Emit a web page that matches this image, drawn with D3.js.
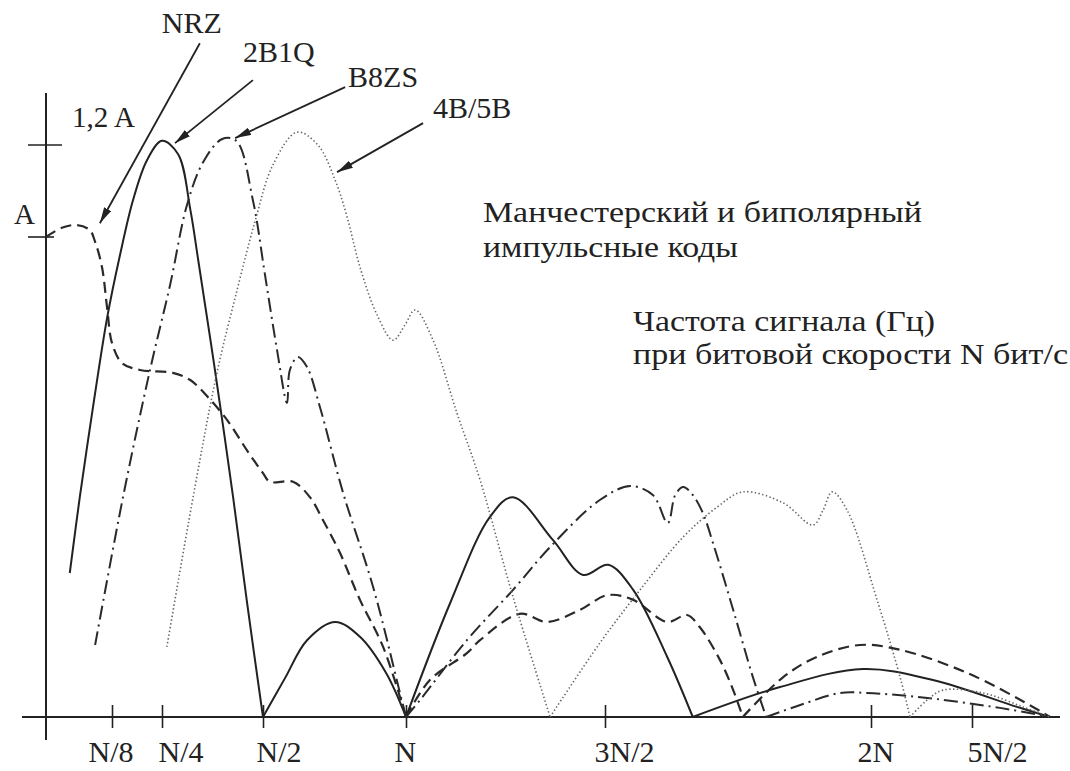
<!DOCTYPE HTML>
<html>
  <head>
    <meta charset="utf-8">
    <title>Спектры линейных кодов</title>
    <style>
      html, body { margin: 0; padding: 0; background: #fff; }
      svg { display: block; }
      text { font-family: "Liberation Serif", "Times New Roman", "DejaVu Serif", "Noto Serif", serif; fill: #222; }
    </style>
  </head>
  <body>
    <svg width="1070" height="771"></svg>
    <script src="https://d3js.org/d3.v7.min.js"></script>
    <script>
      // frequency in units of N (bit rate), amplitude in units of A
      var xTicks = [ 0.125, 0.25, 0.5, 1, 1.5, 2, 2.5 ];
      var xTickLabels = [ 'N/8', 'N/4', 'N/2', 'N', '3N/2', '2N', '5N/2' ];
      var yTicks = [ 1, 1.2 ];
      var yTickLabels = [ 'A', '1,2 A' ];

      var codeNames = [ 'NRZ', '2B1Q', 'B8ZS', '4B/5B' ];

      var nrz = [
        [ [0,1.0],[0.03,1.02],[0.059,1.026],[0.083,1.015],[0.093,0.99],[0.106,0.9375],[0.116,0.85],
          [0.125,0.779],[0.15,0.7375],[0.195,0.723],[0.277,0.717],[0.32,0.702],[0.363,0.667],
          [0.411,0.619],[0.46,0.556],[0.5,0.508],[0.524,0.49],[0.605,0.49],[0.664,0.458],[0.71,0.41],
          [0.769,0.342],[0.839,0.244],[0.92,0.146],[1.0,0] ],
        [ [1.0,0],[1.06,0.077],[1.153,0.133],[1.186,0.16],[1.286,0.215],[1.354,0.198],[1.437,0.223],
          [1.505,0.254],[1.553,0.244],[1.617,0.198],[1.654,0.2125],[1.678,0.1875],[1.716,0.119],
          [1.741,0.056],[1.759,0] ],
        [ [1.759,0],[1.835,0.083],[1.898,0.125],[1.979,0.15],[2.144,0.14],[2.475,0.092],[2.805,0.021],[2.89,0] ]
      ];

      var b2b1q = [
        [ [0.045,0.3],[0.064,0.458],[0.091,0.66],[0.116,0.833],[0.145,0.9625],[0.1775,1.08],[0.2125,1.167],
          [0.25,1.209],[0.29,1.18],[0.32,1.06],[0.34,0.95],[0.381,0.723],[0.426,0.458],[0.463,0.223],[0.5,0] ],
        [ [0.5,0],[0.577,0.081],[0.654,0.16],[0.752,0.198],[0.839,0.167],[0.93,0.092],[1.0,0] ],
        [ [1.0,0],[1.111,0.2375],[1.211,0.417],[1.269,0.458],[1.369,0.369],[1.445,0.296],[1.506,0.317],
          [1.553,0.265],[1.617,0.125],[1.665,0] ],
        [ [1.665,0],[1.829,0.0625],[1.985,0.1],[2.307,0.077],[2.725,0.021],[2.89,0] ]
      ];

      var b8zs = [
        [ [0.093,0.15],[0.1525,0.458],[0.22,0.723],[0.27,0.9],[0.312,1.07],[0.352,1.163],[0.399,1.213],
          [0.434,1.209],[0.475,1.08],[0.507,0.921],[0.549,0.765],[0.584,0.654],[0.594,0.723],[0.622,0.75],
          [0.654,0.729],[0.699,0.646],[0.78,0.467],[0.885,0.271],[0.979,0.05],[1.0,0] ],
        [ [1.0,0],[1.035,0.035],[1.153,0.16],[1.269,0.265],[1.362,0.354],[1.487,0.452],[1.547,0.481],
          [1.59,0.4625],[1.618,0.404],[1.632,0.4625],[1.647,0.479],[1.665,0.4625],[1.684,0.425],
          [1.703,0.3625],[1.741,0.223],[1.778,0.083],[1.803,0] ],
        [ [1.803,0],[1.867,0.025],[1.942,0.05],[1.992,0.05],[2.228,0.042],[2.64,0.019],[2.89,0] ]
      ];

      var b4b5b = [
        [ [0.262,0.146],[0.327,0.458],[0.386,0.717],[0.436,0.89],[0.48,1.033],[0.535,1.157],[0.619,1.228],
          [0.692,1.2],[0.752,1.124],[0.794,1.0435],[0.839,0.9375],[0.899,0.8375],[0.955,0.785],[0.9965,0.817],
          [1.023,0.848],[1.068,0.785],[1.128,0.633],[1.186,0.494],[1.269,0.25],[1.362,0] ],
        [ [1.362,0],[1.487,0.154],[1.566,0.265],[1.647,0.375],[1.711,0.4375],[1.759,0.469],[1.835,0.446],
          [1.891,0.4],[1.91,0.431],[1.927,0.469],[1.955,0.431],[2.03,0.244],[2.144,0.083],[2.193,0] ],
        [ [2.193,0],[2.277,0.035],[2.356,0.056],[2.555,0.05],[2.755,0.021],[2.89,0] ]
      ];

      // where each code's label arrow points (frequency, amplitude)
      var arrowTargets = [ [0.102,1.03], [0.282,1.204], [0.431,1.215], [0.759,1.141] ];

      var headline = [ 'Манчестерский и биполярный', 'импульсные коды' ];
      var axisNote = [ 'Частота сигнала (Гц)', 'при битовой скорости N бит/с' ];

      var svg = d3.select( 'svg' );

      // the drawing's frequency axis is schematic, not linear
      var x = d3.scaleLinear()
        .domain([ 0, 0.125, 0.25, 0.5, 1, 1.5, 2, 2.5, 2.9 ])
        .range([ 46, 112, 162, 263, 406, 605, 871, 972, 1052 ]);
      var y = d3.scaleLinear()
        .domain([ 0, 1, 1.2 ])
        .range([ 717, 237, 145 ]);

      svg.append( 'defs' ).append( 'marker' )
        .attr( 'id', 'head' )
        .attr( 'viewBox', '0 0 16 8' )
        .attr( 'refX', 16 ).attr( 'refY', 4 )
        .attr( 'markerWidth', 16 ).attr( 'markerHeight', 8 )
        .attr( 'markerUnits', 'userSpaceOnUse' )
        .attr( 'orient', 'auto' )
        .append( 'path' )
          .attr( 'd', 'M0,0 L16,4 L0,8 Z' )
          .attr( 'fill', '#222' );

      // axes
      svg.append( 'line' )
        .attr( 'x1', x(0) - 24 ).attr( 'x2', x(2.9) + 8 )
        .attr( 'y1', y(0) ).attr( 'y2', y(0) )
        .attr( 'stroke', '#222' ).attr( 'stroke-width', 2 );
      svg.append( 'line' )
        .attr( 'x1', x(0) ).attr( 'x2', x(0) )
        .attr( 'y1', y(1.2) - 52 ).attr( 'y2', y(0) + 23 )
        .attr( 'stroke', '#222' ).attr( 'stroke-width', 2 );

      var xAxis = svg.append( 'g' )
        .attr( 'transform', 'translate(0,' + y(0) + ')' )
        .call( d3.axisBottom( x ).tickValues( xTicks ).tickSize( 11 )
          .tickFormat( function( d, i ) { return xTickLabels[ i ]; } ) );
      xAxis.attr( 'font-family', null );
      xAxis.select( '.domain' ).remove();
      xAxis.selectAll( '.tick line' )
        .attr( 'y1', -12 ).attr( 'y2', 11 )
        .attr( 'stroke', '#222' ).attr( 'stroke-width', 1.6 );
      xAxis.selectAll( '.tick text' )
        .attr( 'y', 0 ).attr( 'dy', 45 )
        .attr( 'dx', function( d, i ) { return [ -24, -4, -7, -12, -11, -14, -5 ][ i ]; } )
        .attr( 'text-anchor', 'start' )
        .style( 'font-size', '30px' )
        .attr( 'fill', '#222' );

      var yTick = svg.selectAll( 'g.ytick' )
        .data( yTicks )
        .enter()
        .append( 'g' )
          .attr( 'class', 'ytick' )
          .attr( 'transform', function( d ) { return 'translate(' + x(0) + ',' + y( d ) + ')'; } );
      yTick.append( 'line' )
        .attr( 'x1', -18 ).attr( 'x2', function( d, i ) { return i == 0 ? 8 : 16; } )
        .attr( 'stroke', '#222' ).attr( 'stroke-width', 1.6 );
      yTick.append( 'text' )
        .attr( 'x', function( d, i ) { return i == 0 ? -11 : 26; } )
        .attr( 'y', function( d, i ) { return i == 0 ? -13 : -18; } )
        .attr( 'text-anchor', function( d, i ) { return i == 0 ? 'end' : 'start'; } )
        .style( 'font-size', '29px' )
        .text( function( d, i ) { return yTickLabels[ i ]; } );

      // spectra
      var line = d3.line()
        .x( function( d ) { return x( d[0] ); } )
        .y( function( d ) { return y( d[1] ); } )
        .curve( d3.curveCatmullRom.alpha( 0.5 ) );

      var spectra = [
        { segs: nrz,   stroke: '#2a2a2a', width: 2.2, dash: '11,6' },
        { segs: b2b1q, stroke: '#222',    width: 2,   dash: null },
        { segs: b8zs,  stroke: '#2a2a2a', width: 2,   dash: '14,5,2,5' },
        { segs: b4b5b, stroke: '#666',    width: 1.6, dash: '1.4,2.4' }
      ];

      spectra.forEach( function( s ) {
        svg.append( 'g' )
          .selectAll( 'path' )
          .data( s.segs )
          .enter()
          .append( 'path' )
            .attr( 'd', line )
            .attr( 'fill', 'none' )
            .attr( 'stroke', s.stroke )
            .attr( 'stroke-width', s.width )
            .attr( 'stroke-dasharray', s.dash )
            .attr( 'stroke-linejoin', 'round' );
      } );

      // code labels with arrows
      var tails = [ [100,-180], [78,-63], [110,-51], [86,-49] ];
      var labelAt = [ [92,-190], [104,-81], [148,-51], [135,-54] ];

      codeNames.forEach( function( name, i ) {
        var tx = x( arrowTargets[i][0] ), ty = y( arrowTargets[i][1] );
        svg.append( 'line' )
          .attr( 'x1', tx + tails[i][0] ).attr( 'y1', ty + tails[i][1] )
          .attr( 'x2', tx ).attr( 'y2', ty )
          .attr( 'stroke', '#222' ).attr( 'stroke-width', 1.8 )
          .attr( 'marker-end', 'url(#head)' );
        svg.append( 'text' )
          .attr( 'x', tx + labelAt[i][0] ).attr( 'y', ty + labelAt[i][1] )
          .attr( 'text-anchor', 'middle' )
          .style( 'font-size', '30px' )
          .text( name );
      } );

      svg.append( 'g' ).selectAll( 'text' )
        .data( headline ).enter()
        .append( 'text' )
          .attr( 'x', 483 )
          .attr( 'y', function( d, i ) { return 222 + i * 35; } )
          .attr( 'textLength', function( d, i ) { return [ 439, 255 ][ i ]; } )
          .attr( 'lengthAdjust', 'spacingAndGlyphs' )
          .style( 'font-size', '30px' )
          .text( function( d ) { return d; } );

      svg.append( 'g' ).selectAll( 'text' )
        .data( axisNote ).enter()
        .append( 'text' )
          .attr( 'x', 633 )
          .attr( 'y', function( d, i ) { return 331 + i * 33; } )
          .attr( 'textLength', function( d, i ) { return [ 302, 435 ][ i ]; } )
          .attr( 'lengthAdjust', 'spacingAndGlyphs' )
          .style( 'font-size', '30px' )
          .text( function( d ) { return d; } );
    </script>
  </body>
</html>
